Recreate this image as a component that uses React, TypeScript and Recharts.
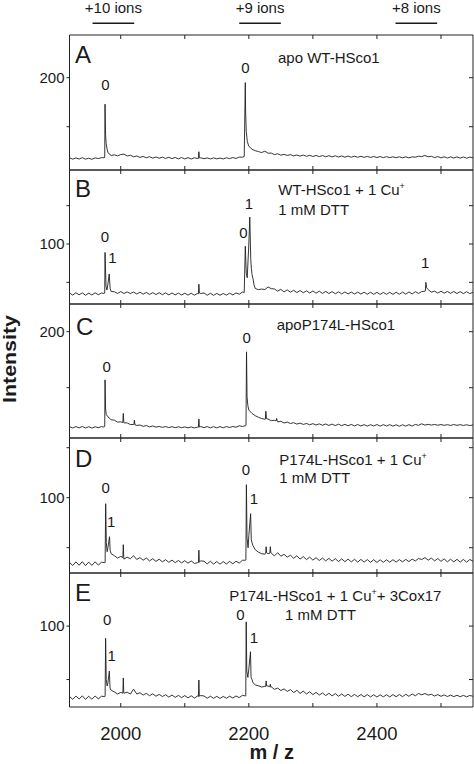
import { LineChart, Line, XAxis, YAxis, ReferenceDot, ReferenceLine } from 'recharts'

// m/z sampling grid for the baseline, peak tops are added separately
const mzGrid = [
  1920, 1925, 1930, 1935, 1940, 1945, 1950, 1955, 1960, 1965,
  1970, 1975, 1980, 1985, 1990, 1995, 2000, 2005, 2010, 2015,
  2020, 2025, 2030, 2035, 2040, 2045, 2050, 2055, 2060, 2065,
  2070, 2075, 2080, 2085, 2090, 2095, 2100, 2105, 2110, 2115,
  2120, 2125, 2130, 2135, 2140, 2145, 2150, 2155, 2160, 2165,
  2170, 2175, 2180, 2185, 2190, 2195, 2200, 2205, 2210, 2215,
  2220, 2225, 2230, 2235, 2240, 2245, 2250, 2255, 2260, 2265,
  2270, 2275, 2280, 2285, 2290, 2295, 2300, 2305, 2310, 2315,
  2320, 2325, 2330, 2335, 2340, 2345, 2350, 2355, 2360, 2365,
  2370, 2375, 2380, 2385, 2390, 2395, 2400, 2405, 2410, 2415,
  2420, 2425, 2430, 2435, 2440, 2445, 2450, 2455, 2460, 2465,
  2470, 2475, 2480, 2485, 2490, 2495, 2500, 2505, 2510, 2515,
  2520, 2525, 2530, 2535, 2540, 2545, 2550,
]

const xTicks = [2000, 2100, 2200, 2300, 2400, 2500]
const xLabelled = [2000, 2200, 2400]

// A: apo WT-HSco1
const baseA = [
  118.3, 116.9, 118.1, 117.0, 118.4, 116.8, 117.9, 116.7, 118.2, 117.5,
  118.4, 118.5, 123.5, 120.6, 121.3, 120.2, 121.6, 122.0, 120.1, 120.9,
  119.2, 120.1, 118.7, 119.6, 118.3, 119.4, 117.9, 119.1, 117.8, 118.9,
  117.6, 118.8, 117.4, 118.6, 117.2, 118.5, 117.1, 118.4, 117.0, 118.3,
  117.5, 118.2, 117.3, 118.1, 117.1, 118.2, 117.2, 118.0, 117.1, 118.3,
  117.4, 118.5, 117.6, 119.0, 118.9, 165.0, 130.0, 127.0, 125.5, 124.6,
  123.6, 125.0, 122.9, 123.1, 121.5, 122.4, 120.9, 121.8, 120.7, 121.5,
  120.2, 121.1, 120.0, 121.0, 119.8, 120.8, 119.6, 120.6, 119.5, 120.5,
  119.3, 120.4, 119.2, 120.3, 119.1, 120.1, 118.9, 120.0, 118.8, 119.9,
  118.8, 119.8, 118.7, 119.7, 118.6, 119.6, 118.5, 119.5, 118.4, 119.4,
  118.4, 119.3, 118.3, 119.3, 118.2, 119.2, 118.2, 119.2, 118.9, 119.9,
  119.5, 120.6, 119.3, 119.8, 118.4, 119.5, 118.2, 119.3, 118.0, 119.2,
  118.0, 119.2, 117.9, 119.1, 117.8, 119.0, 118.3,
]
const peaksA: [number, number][] = [
  [1973.8, 118.3], [1975.5, 173], [1976.3, 142], [1977.2, 133], [1978.6, 127.5],
  [2121.2, 117.6], [2122, 124.5], [2122.8, 118.2],
  [2192.8, 119.6], [2194.5, 195], [2196, 145], [2197.6, 135],
]
const labelsA = [
  { mz: 1976, y: 193, text: '0' },
  { mz: 2194.5, y: 210.7, text: '0' },
]

// B: WT-HSco1 + 1 Cu+
const baseB = [
  36.2, 33.4, 36.5, 33.8, 36.3, 33.2, 35.9, 33.5, 36.4, 33.9,
  36.1, 36.0, 48.0, 38.0, 37.8, 35.6, 38.0, 35.5, 37.6, 35.4,
  37.5, 34.8, 37.2, 34.6, 36.9, 34.3, 36.6, 34.1, 36.5, 33.9,
  36.3, 33.7, 36.2, 33.6, 36.0, 33.5, 35.9, 33.4, 35.8, 33.3,
  35.6, 35.5, 36.2, 33.2, 35.8, 33.1, 35.6, 33.2, 35.5, 33.4,
  35.9, 33.6, 36.3, 34.5, 37.4, 85.0, 100.0, 60.0, 42.0, 40.5,
  41.3, 40.6, 44.0, 41.8, 41.4, 38.6, 40.8, 37.6, 40.2, 37.2,
  39.6, 36.7, 39.3, 36.4, 39.0, 36.1, 38.8, 35.9, 38.5, 35.7,
  38.2, 35.5, 37.9, 35.2, 37.7, 35.0, 37.5, 34.9, 37.4, 34.8,
  37.3, 34.7, 37.2, 34.5, 37.1, 34.4, 37.0, 34.3, 36.9, 34.4,
  37.0, 34.3, 37.1, 34.5, 37.3, 34.6, 37.5, 34.9, 37.8, 35.6,
  38.0, 38.5, 40.5, 37.2, 38.6, 36.0, 38.4, 35.9, 38.2, 35.7,
  38.1, 35.5, 37.9, 35.4, 37.8, 35.3, 37.2,
]
const peaksB: [number, number][] = [
  [1973.8, 35.6], [1975.5, 89], [1977, 45], [1978.5, 40], [1982, 61], [1983.5, 42],
  [2121.2, 34.8], [2122, 47.6], [2122.8, 36.2],
  [2192.8, 36.8], [2194.5, 97], [2196, 62], [2197.5, 56], [2201.5, 135], [2203, 80],
  [2204, 68], [2206.5, 55], [2208, 47],
  [2475.6, 38.8], [2476.4, 50], [2477.6, 43],
]
const labelsB = [
  { mz: 1975.5, y: 110, text: '0' },
  { mz: 1987, y: 82, text: '1' },
  { mz: 2191.7, y: 114.6, text: '0' },
  { mz: 2200, y: 152, text: '1' },
  { mz: 2475.5, y: 75.6, text: '1' },
]

// C: apoP174L-HSco1
const baseC = [
  115.2, 114.0, 115.3, 114.1, 115.4, 114.0, 115.2, 113.9, 115.1, 114.3,
  115.3, 115.4, 124.0, 121.4, 121.0, 119.3, 119.5, 118.6, 118.6, 117.1,
  117.2, 116.3, 116.7, 115.5, 116.2, 115.0, 115.8, 114.8, 115.4, 114.6,
  115.3, 114.4, 115.2, 114.3, 115.1, 114.3, 115.0, 114.2, 115.0, 114.1,
  114.8, 115.3, 114.3, 115.3, 114.2, 115.2, 114.1, 115.3, 114.2, 115.3,
  114.5, 115.4, 114.7, 116.0, 115.4, 116.2, 130.0, 127.0, 125.0, 123.6,
  122.5, 121.8, 122.0, 120.6, 120.9, 119.5, 120.0, 118.5, 119.3, 118.0,
  118.8, 117.5, 118.4, 117.2, 118.1, 116.9, 117.9, 116.7, 117.7, 116.5,
  117.6, 116.3, 117.5, 116.2, 117.4, 116.1, 117.3, 116.0, 117.2, 115.9,
  117.1, 115.8, 117.0, 115.7, 117.0, 115.8, 117.1, 115.7, 117.0, 115.8,
  117.0, 115.7, 116.9, 115.6, 116.9, 115.7, 117.0, 115.8, 117.2, 116.4,
  117.8, 116.6, 117.3, 116.6, 117.2, 116.5, 117.1, 116.4, 117.0, 116.3,
  117.1, 116.4, 117.0, 116.3, 116.9, 116.2, 116.8,
]
const peaksC: [number, number][] = [
  [1973.8, 114.9], [1975.5, 157], [1976.4, 131], [1977.4, 126],
  [2003.2, 118.9], [2004, 127], [2004.8, 119.2],
  [2020.6, 117], [2021.3, 121], [2022.2, 116.9],
  [2121.2, 114.7], [2122, 122], [2122.8, 114.9],
  [2195.6, 116.4], [2196.4, 182], [2197.2, 142], [2198.5, 134],
  [2225.8, 122], [2226.6, 129], [2227.6, 122.4],
  [2242.7, 120.4], [2243.5, 122.6], [2244.3, 120.2],
]
const labelsC = [
  { mz: 1978, y: 169, text: '0' },
  { mz: 2196.5, y: 194.5, text: '0' },
]

// D: P174L-HSco1 + 1 Cu+
const baseD = [
  35.3, 32.2, 35.8, 32.5, 36.0, 32.1, 35.6, 32.3, 35.9, 32.6,
  35.5, 35.0, 50.0, 44.0, 42.0, 39.6, 41.3, 38.6, 40.5, 39.0,
  42.0, 38.2, 40.1, 37.5, 39.6, 36.8, 39.0, 36.3, 38.5, 35.9,
  38.0, 35.4, 37.6, 35.1, 37.2, 34.8, 37.0, 34.5, 36.8, 34.2,
  35.0, 36.8, 36.5, 33.8, 36.4, 33.6, 36.2, 33.5, 36.1, 33.7,
  36.3, 33.9, 36.5, 34.6, 37.4, 37.5, 62.0, 55.0, 48.0, 45.5,
  44.0, 43.5, 44.0, 44.5, 41.8, 45.0, 41.5, 43.4, 40.6, 42.5,
  39.4, 41.9, 38.6, 41.2, 38.1, 40.6, 37.6, 40.0, 37.2, 39.6,
  36.8, 39.3, 36.5, 39.0, 36.2, 38.8, 36.0, 38.6, 35.8, 38.4,
  35.6, 38.3, 35.5, 38.1, 35.4, 38.0, 35.3, 37.9, 35.4, 37.9,
  35.5, 38.0, 35.6, 38.1, 35.8, 38.3, 36.1, 38.6, 36.8, 39.2,
  38.2, 40.1, 37.5, 39.6, 36.8, 39.2, 36.3, 38.8, 35.9, 38.5,
  35.8, 38.4, 35.6, 38.3, 35.5, 38.2, 36.5,
]
const peaksD: [number, number][] = [
  [1975.6, 35.2], [1976.5, 94], [1977.5, 55], [1978.8, 46], [1982.5, 61], [1983.5, 47],
  [2003.3, 40.2], [2004, 53], [2004.7, 41],
  [2121.3, 35.2], [2122, 47.5], [2122.7, 35.6],
  [2195.4, 38], [2196.2, 113], [2197.2, 60], [2198.8, 50], [2202.8, 84], [2203.8, 58], [2206.5, 52],
  [2226.3, 44], [2227, 51], [2227.8, 45],
  [2232.8, 44.5], [2233.6, 51], [2234.4, 44.8],
]
const labelsD = [
  { mz: 1976.6, y: 110.5, text: '0' },
  { mz: 1985, y: 76.4, text: '1' },
  { mz: 2195.3, y: 128.3, text: '0' },
  { mz: 2207.8, y: 99.2, text: '1' },
]

// E: P174L-HSco1 + 1 Cu+ + 3Cox17
const baseE = [
  34.2, 31.5, 34.5, 31.8, 34.7, 31.4, 34.3, 31.6, 34.6, 31.9,
  34.4, 34.0, 47.0, 40.0, 38.4, 36.5, 38.0, 37.2, 38.2, 36.4,
  41.0, 36.5, 37.6, 35.5, 37.1, 34.9, 36.6, 34.4, 36.1, 34.1,
  35.8, 33.6, 35.5, 33.3, 35.2, 33.0, 35.0, 32.8, 34.8, 32.7,
  34.6, 35.0, 34.6, 32.5, 34.4, 32.4, 34.3, 32.3, 34.2, 32.5,
  34.4, 32.7, 34.6, 33.1, 35.2, 34.6, 60.0, 50.0, 45.0, 44.2,
  43.0, 43.6, 44.0, 43.2, 40.8, 42.0, 39.7, 41.3, 38.9, 40.6,
  37.8, 39.9, 37.0, 39.2, 36.5, 38.6, 35.9, 38.0, 35.5, 37.5,
  35.0, 37.1, 34.7, 36.8, 34.4, 36.5, 34.2, 36.3, 34.0, 36.1,
  33.9, 36.0, 33.8, 35.9, 33.7, 35.8, 33.6, 35.7, 33.8, 35.8,
  33.7, 35.9, 33.9, 36.0, 34.0, 36.2, 34.3, 36.5, 34.8, 37.0,
  35.7, 36.9, 35.4, 36.2, 34.6, 35.9, 34.3, 35.6, 34.1, 35.4,
  34.0, 35.3, 33.9, 35.2, 33.8, 35.1, 34.3,
]
const peaksE: [number, number][] = [
  [1975.6, 34.2], [1976.4, 88.5], [1977.4, 50], [1978.8, 44], [1982.2, 58], [1983.3, 42],
  [2003.3, 37.2], [2004, 51.5], [2004.7, 38],
  [2121.3, 34], [2122, 49.5], [2122.7, 34.5],
  [2195.2, 35], [2195.9, 104], [2196.8, 58], [2198.5, 52], [2202.6, 76], [2203.5, 52], [2206.5, 47],
  [2226.3, 43.5], [2227, 48.7], [2227.8, 44],
  [2232.8, 43.2], [2233.6, 45.6], [2234.4, 42.8],
]
const labelsE = [
  { mz: 1979, y: 106.1, text: '0' },
  { mz: 1986, y: 72.6, text: '1' },
  { mz: 2187, y: 110.8, text: '0' },
  { mz: 2207.8, y: 89, text: '1' },
]

// charge-state ranges shown above panel A
const ionBands = [
  { label: '+10 ions', from: 1956, to: 2021, y: 23.3 },
  { label: '+9 ions', from: 2185, to: 2250, y: 23.3 },
  { label: '+8 ions', from: 2429, to: 2494, y: 23.3 },
]

const build = (base: number[], peaks: [number, number][]) =>
  [...mzGrid.map((mz, i) => ({ mz, v: base[i] })), ...peaks.map(([mz, v]) => ({ mz, v }))]
    .sort((a, b) => a.mz - b.mz)

const panels = [
  { id: 'A', top: 35, bottom: 170, domain: [105.8, 243.6], ticks: [150, 200], label: 200, data: build(baseA, peaksA), marks: labelsA },
  { id: 'B', top: 170, bottom: 304, domain: [21.8, 196.5], ticks: [50, 100, 150], label: 100, data: build(baseB, peaksB), marks: labelsB },
  { id: 'C', top: 304, bottom: 438, domain: [105.1, 224.7], ticks: [150, 200], label: 200, data: build(baseC, peaksC), marks: labelsC },
  { id: 'D', top: 438, bottom: 573, domain: [24.7, 159.7], ticks: [50, 100, 150], label: 100, data: build(baseD, peaksD), marks: labelsD },
  { id: 'E', top: 573, bottom: 707, domain: [24.3, 149.7], ticks: [50, 100], label: 100, data: build(baseE, peaksE), marks: labelsE },
]

const INK = '#1a1a1a'
const FRAME = '#222'
const noTick = () => <g />

function Panel({ p, last }: { p: typeof panels[number], last: boolean }) {
  const h = p.bottom - p.top
  const axisH = last ? 40 : 0
  return (
    <div style={{ position: 'absolute', left: 0, top: p.top - 1 }}>
      <LineChart width={474} height={h + 2 + axisH - (last ? 1 : 0)} data={p.data}
        margin={{ top: 1, right: 1, bottom: last ? 0 : 1, left: 9.5 }}>
        {last ? (
          <XAxis dataKey="mz" type="number" domain={[1920, 2550]} allowDataOverflow ticks={xTicks}
            height={axisH} stroke={FRAME} tickSize={4} tickMargin={15.5}
            tickLine={{ transform: 'translate(0,-4)' }}
            tickFormatter={(v: number) => (xLabelled.includes(v) ? String(v) : '')}
            tick={{ fontSize: 18.5, fill: INK }} />
        ) : (
          <XAxis dataKey="mz" type="number" domain={[1920, 2550]} allowDataOverflow ticks={xTicks}
            mirror stroke={FRAME} tickSize={4} tick={noTick} />
        )}
        <XAxis xAxisId="top" orientation="top" dataKey="mz" type="number" domain={[1920, 2550]}
          allowDataOverflow ticks={xTicks} mirror stroke={FRAME} tickSize={4} tick={noTick} />
        <YAxis type="number" domain={p.domain} allowDataOverflow ticks={p.ticks} width={60}
          stroke={FRAME} tickSize={3} tickMargin={2}
          tickFormatter={(v: number) => (v === p.label ? String(v) : '')}
          tick={{ fontSize: 15, fill: INK }} />
        <YAxis yAxisId="right" orientation="right" type="number" domain={p.domain} allowDataOverflow
          ticks={p.ticks} mirror stroke={FRAME} tickSize={4} tick={noTick} />
        <Line type="linear" dataKey="v" stroke="#1e1e1e" strokeWidth={0.9} dot={false}
          isAnimationActive={false} />
        {p.marks.map((m, i) => (
          <ReferenceDot key={i} x={m.mz} y={m.y} r={0} fill="none" stroke="none" ifOverflow="visible"
            label={{ value: m.text, position: 'center', fontSize: 15, fill: INK }} />
        ))}
      </LineChart>
    </div>
  )
}

function IonHeader() {
  return (
    <div style={{ position: 'absolute', left: 0, top: 0 }}>
      <LineChart width={474} height={35} data={ionBands} margin={{ top: 0, right: 1, bottom: 0, left: 69.5 }}>
        <XAxis hide dataKey="from" type="number" domain={[1920, 2550]} allowDataOverflow />
        <YAxis hide type="number" domain={[0, 35]} reversed allowDataOverflow />
        {ionBands.map((b) => (
          <ReferenceLine key={b.label} ifOverflow="visible" stroke={INK} strokeWidth={1.6}
            segment={[{ x: b.from, y: b.y }, { x: b.to, y: b.y }]}
            label={{ value: b.label, position: 'top', offset: 10.3, fontSize: 15, fill: INK }} />
        ))}
      </LineChart>
    </div>
  )
}

const sup = (t: string) => <tspan dy={-6} fontSize={9}>{t}</tspan>

export default function App() {
  return (
    <div style={{
      position: 'absolute', left: 0, top: 0, width: 474, height: 764, overflow: 'hidden',
      background: '#fff', fontFamily: '"Liberation Sans", Arial, sans-serif',
    }}>
      <IonHeader />
      {panels.map((p, i) => <Panel key={p.id} p={p} last={i === panels.length - 1} />)}
      <svg width={474} height={764} style={{ position: 'absolute', left: 0, top: 0, pointerEvents: 'none' }}>
        <g fill={INK} fontSize={24}>
          <text x={75} y={63.3}>A</text>
          <text x={75} y={196.7}>B</text>
          <text x={76} y={335}>C</text>
          <text x={75} y={466.7}>D</text>
          <text x={75} y={600.7}>E</text>
        </g>
        <g fill={INK} fontSize={15}>
          <text x={278} y={63.3}>apo WT-HSco1</text>
          <text x={278.3} y={195}>WT-HSco1 + 1 Cu{sup('+')}</text>
          <text x={278.3} y={215}>1 mM DTT</text>
          <text x={276.7} y={330}>apoP174L-HSco1</text>
          <text x={279.3} y={465}>P174L-HSco1 + 1 Cu{sup('+')}</text>
          <text x={279.3} y={483.3}>1 mM DTT</text>
          <text x={229.3} y={600.7}>P174L-HSco1 + 1 Cu{sup('+')}<tspan dy={6} fontSize={15}>+ 3Cox17</tspan></text>
          <text x={285} y={620}>1 mM DTT</text>
        </g>
        <text transform="translate(15.5,359) rotate(-90)" textAnchor="middle" fontWeight="bold"
          fontSize={19} fill={INK} textLength={88} lengthAdjust="spacingAndGlyphs">Intensity</text>
        <text x={271.7} y={759} textAnchor="middle" fontWeight="bold" fontSize={20} fill={INK}>m / z</text>
      </svg>
    </div>
  )
}
